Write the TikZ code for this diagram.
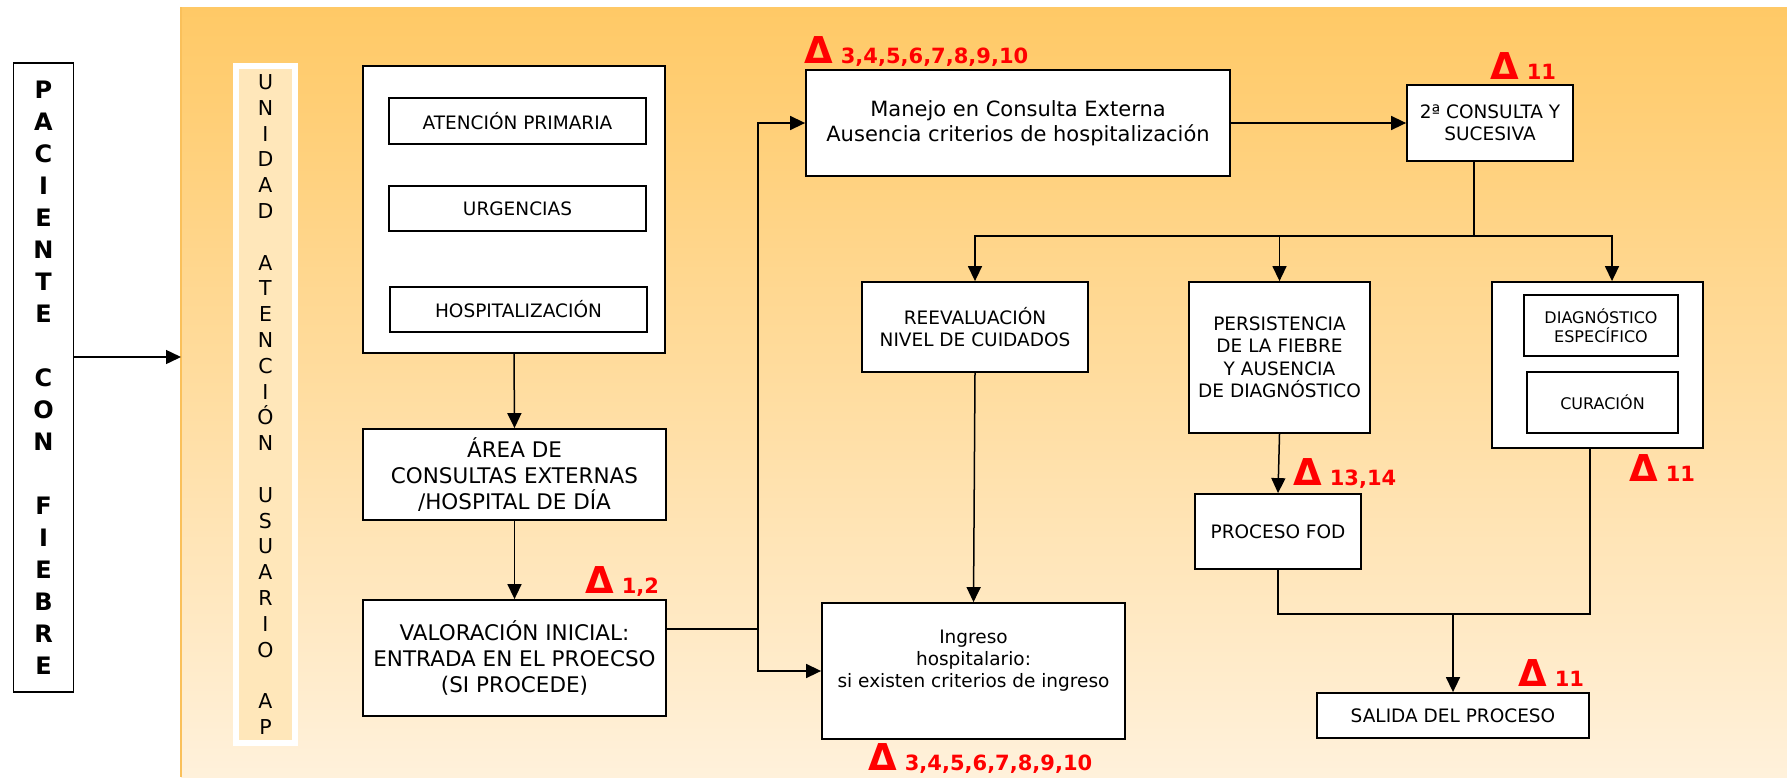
\documentclass[tikz,border=0pt]{standalone}
\usepackage{fontspec}
\setmainfont{DejaVu Sans}
\usetikzlibrary{arrows.meta,calc}
\definecolor{bgtop}{RGB}{255,201,102}
\definecolor{bgbot}{RGB}{255,241,219}
\definecolor{bgedge}{RGB}{250,192,90}
\definecolor{colfill}{RGB}{255,231,186}
\definecolor{dred}{RGB}{255,0,0}
\newcommand{\deltalab}[1]{{\fontsize{37}{37}\selectfont Δ}\hspace{8pt}{\fontsize{21}{21}\selectfont #1}}
\begin{document}
\begin{tikzpicture}[x=1pt,y=-1pt,
  bx/.style={draw=black, fill=white, line width=1.8pt, inner sep=0pt, align=center, font=\fontsize{18.5}{22.5}\selectfont},
  arr/.style={line width=1.5pt, -{Triangle[length=15pt,width=14pt]}},
  ln/.style={line width=1.5pt},
  dlt/.style={anchor=base west, inner sep=0pt, text=dred, font=\bfseries}]
\useasboundingbox (0,0) rectangle (1787,777);
% background
\shade[top color=bgtop, bottom color=bgbot] (181,7) rectangle (1787,777);
\draw[bgedge, line width=1.5pt] (181,7) -- (181,777);

% left column
\node[bx, minimum width=60pt, minimum height=629pt, font=\bfseries\fontsize{24}{32}\selectfont] (pac) at (43.5,377.5)
 {P\\A\\C\\I\\E\\N\\T\\E\\~\\C\\O\\N\\~\\F\\I\\E\\B\\R\\E};
\node[draw=white, line width=6pt, fill=colfill, minimum width=59pt, minimum height=677pt, inner sep=0pt, align=center, font=\fontsize{20.5}{25.8}\selectfont] (una) at (265.5,404.5)
 {U\\N\\I\\D\\A\\D\\~\\A\\T\\E\\N\\C\\I\\Ó\\N\\~\\U\\S\\U\\A\\R\\I\\O\\~\\A\\P};

% entry boxes
\node[bx, minimum width=302pt, minimum height=287pt] (big) at (514,209.5) {};
\node[bx, minimum width=257pt, minimum height=46pt] (ap) at (517.5,121) {ATENCIÓN PRIMARIA};
\node[bx, minimum width=257pt, minimum height=45pt] (urg) at (517.5,208.5) {URGENCIAS};
\node[bx, minimum width=257pt, minimum height=45pt] (hosp) at (518.5,309.5) {HOSPITALIZACIÓN};
\node[bx, minimum width=303pt, minimum height=91pt, font=\fontsize{21.5}{26}\selectfont] (area) at (514.5,474.5)
 {ÁREA DE\\CONSULTAS EXTERNAS\\/HOSPITAL DE DÍA};
\node[bx, minimum width=303pt, minimum height=116pt, font=\fontsize{21.5}{26}\selectfont] (val) at (514.5,658)
 {VALORACIÓN INICIAL:\\ENTRADA EN EL PROECSO\\(SI PROCEDE)};

% middle
\node[bx, minimum width=424pt, minimum height=106pt, font=\fontsize{21}{25}\selectfont] (man) at (1018,123)
 {Manejo en Consulta Externa\\Ausencia criterios de hospitalización};
\node[bx, minimum width=166pt, minimum height=76pt] (seg) at (1490,123) {2ª CONSULTA Y\\SUCESIVA};
\node[bx, minimum width=226pt, minimum height=90pt] (reev) at (975,327) {REEVALUACIÓN\\NIVEL DE CUIDADOS};
\node[bx, minimum width=181pt, minimum height=151pt] (pers) at (1279.5,357.5)
 {PERSISTENCIA\\DE LA FIEBRE\\Y AUSENCIA\\DE DIAGNÓSTICO};
\node[bx, minimum width=211pt, minimum height=166pt] (diag) at (1597.5,365) {};
\node[bx, minimum width=154pt, minimum height=61pt, font=\fontsize{16}{19.5}\selectfont] (desp) at (1601,325.5) {DIAGNÓSTICO\\ESPECÍFICO};
\node[bx, minimum width=151pt, minimum height=61pt, font=\fontsize{16}{19.5}\selectfont] (cur) at (1602.5,402.5) {CURACIÓN};
\node[bx, minimum width=166pt, minimum height=75pt] (fod) at (1278,531.5) {PROCESO FOD};
\node[bx, minimum width=272pt, minimum height=45pt] (sal) at (1453,715.5) {SALIDA DEL PROCESO};
\node[bx, minimum width=303pt, minimum height=136pt] (ing) at (973.5,671) {};
\node[inner sep=0pt, align=center, font=\fontsize{18.5}{22}\selectfont] (ingtxt) at (973.5,661)
 {Ingreso\\hospitalario:\\si existen criterios de ingreso};

% delta labels
\node[dlt] (d1) at (585,593) {\deltalab{1,2}};
\node[dlt] (d2) at (804,63) {\deltalab{3,4,5,6,7,8,9,10}};
\node[dlt] (d3) at (1490,79) {\deltalab{11}};
\node[dlt] (d4) at (1293,485) {\deltalab{13,14}};
\node[dlt] (d5) at (1629,481) {\deltalab{11}};
\node[dlt] (d6) at (1518,686) {\deltalab{11}};
\node[dlt] (d7) at (868,770) {\deltalab{3,4,5,6,7,8,9,10}};

% connectors
\coordinate (bgin) at (181,357);
\coordinate (j1) at (758,629);
\coordinate (j2) at (1474,236);
\coordinate (j3) at (1453,614);
\draw[arr] (pac.east |- bgin) -- (bgin);
\draw[arr] (big.south) -- (area.north);
\draw[arr] (area.south) -- (val.north);
\draw[ln] (val.east |- j1) -- (j1);
\draw[arr] (j1) |- (man.west);
\draw[arr] (j1) |- (ing.west);
\draw[arr] (man.east) -- (seg.west);
\draw[ln] (seg.south -| j2) -- (j2);
\draw[arr] (j2) -| (reev.north);
\draw[arr] (j2) -| (pers.north);
\draw[arr] (j2) -| ($(diag.north)+(14.5,0)$);
\draw[arr] (reev.south) -- (ing.north);
\draw[arr] (pers.south) -- (fod.north);
\draw[ln] (fod.south) |- (j3) -| (diag.south -| sal.east);
\draw[arr] (j3) -- (sal.north);
\end{tikzpicture}
\end{document}
